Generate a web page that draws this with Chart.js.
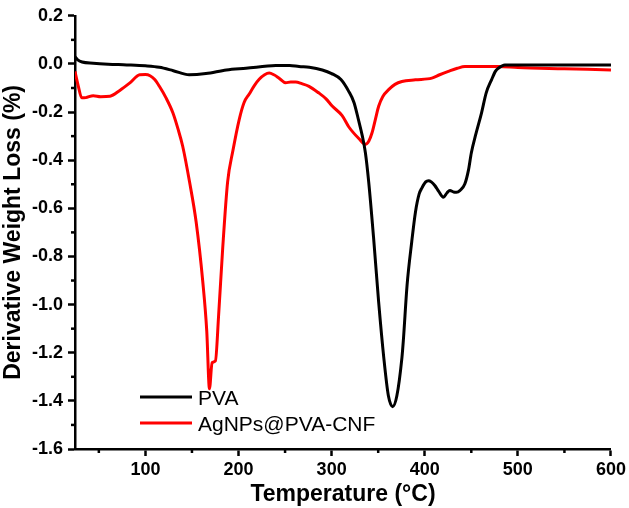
<!DOCTYPE html>
<html>
<head>
<meta charset="utf-8">
<script src="https://cdn.jsdelivr.net/npm/chart.js@4"></script>
<style>
  html, body { margin: 0; padding: 0; background: #fff; }
  #wrap { width: 629px; height: 508px; }
</style>
</head>
<body>
<div id="wrap"><canvas id="dtg" width="629" height="508"></canvas></div>
<script>
// PVA curve (temperature in °C, derivative weight loss in %)
const pvaTemp = [24.4, 27, 32, 44, 60, 80, 100, 115, 130, 147, 165, 187, 208, 240, 255, 265, 276, 290, 300, 310,
  318.5, 324, 329, 333, 336.3, 339.8, 345, 350.5, 356, 361, 365.5, 370, 375.5, 377, 381, 386, 390, 394, 397, 401,
  404, 407, 411, 415, 420, 424, 427, 431, 434, 438, 443, 447, 450, 455, 461, 466, 471.7, 476, 479, 486, 500, 550, 600];
const pvaDeriv = [0.03, 0.018, 0.008, 0.003, -0.001, -0.004, -0.008, -0.014, -0.028, -0.045, -0.04, -0.025, -0.018, -0.007, -0.006, -0.011, -0.014, -0.025, -0.04, -0.065,
  -0.115, -0.16, -0.235, -0.3, -0.37, -0.49, -0.72, -0.99, -1.22, -1.38, -1.424, -1.38, -1.22, -1.15, -0.92, -0.74, -0.616, -0.54, -0.515, -0.49,
  -0.485, -0.49, -0.506, -0.53, -0.554, -0.535, -0.526, -0.532, -0.533, -0.525, -0.499, -0.44, -0.37, -0.29, -0.203, -0.12, -0.066, -0.03, -0.018, -0.004, -0.004, -0.004, -0.004];

// AgNPs@PVA-CNF curve
const cnfTemp = [24.4, 26, 28, 31.6, 36, 44, 52, 62, 72.5, 83, 94, 100, 105, 110, 115, 122, 129.5, 135, 140, 147.4,
  154.5, 161.6, 165.9, 168.8, 171.6, 175.2, 178.7, 183, 188.3, 194, 200.8, 206, 211.5, 217, 222.2, 228, 233, 238, 243.6, 250.7,
  256, 261.4, 268, 275.7, 286, 294, 300.6, 311.3, 318.5, 329.2, 336.3, 340, 343.4, 347, 350.5, 355, 361.2, 368, 375.5, 390,
  407.6, 416, 425.4, 435, 443.2, 460, 478.9, 500, 550, 600];
const cnfDeriv = [-0.031, -0.06, -0.093, -0.141, -0.14, -0.132, -0.136, -0.134, -0.11, -0.08, -0.045, -0.044, -0.049, -0.065, -0.093, -0.14, -0.203, -0.27, -0.341, -0.49,
  -0.657, -0.904, -1.11, -1.35, -1.241, -1.234, -1.04, -0.767, -0.49, -0.36, -0.23, -0.16, -0.125, -0.09, -0.064, -0.045, -0.038, -0.045, -0.059, -0.078,
  -0.075, -0.075, -0.082, -0.093, -0.12, -0.145, -0.175, -0.215, -0.262, -0.31, -0.334, -0.32, -0.286, -0.23, -0.176, -0.135, -0.107, -0.085, -0.073, -0.066,
  -0.059, -0.045, -0.031, -0.018, -0.011, -0.011, -0.011, -0.015, -0.02, -0.025];

const xMajor = [100, 200, 300, 400, 500, 600];
const xMinor = [50, 150, 250, 350, 450, 550];
const yMajor = [0.2, 0.0, -0.2, -0.4, -0.6, -0.8, -1.0, -1.2, -1.4, -1.6];
const yMinor = [0.1, -0.1, -0.3, -0.5, -0.7, -0.9, -1.1, -1.3, -1.5];

const seriesNames = ['PVA', 'AgNPs@PVA-CNF'];
const seriesColors = ['#000000', '#ff0000'];

const FONT = '"Liberation Sans", Arial, sans-serif';

function toPoints(xs, ys) {
    return xs.map((x, i) => ({ x: x, y: ys[i] }));
}

// short minor ticks, drawn on the library's scales
const minorTicks = {
    id: 'minorTicks',
    afterDraw(chart) {
        const ctx = chart.ctx;
        const xs = chart.scales.x, ys = chart.scales.y;
        ctx.save();
        ctx.strokeStyle = '#000';
        ctx.lineWidth = 2.5;
        xMinor.forEach(v => {
            const px = xs.getPixelForValue(v);
            ctx.beginPath();
            ctx.moveTo(px, xs.top);
            ctx.lineTo(px, xs.top + 4);
            ctx.stroke();
        });
        yMinor.forEach(v => {
            const py = ys.getPixelForValue(v);
            ctx.beginPath();
            ctx.moveTo(ys.right, py);
            ctx.lineTo(ys.right - 4, py);
            ctx.stroke();
        });
        ctx.restore();
    }
};

// legend inside the plot, lower left
const insideLegend = {
    id: 'insideLegend',
    afterDraw(chart) {
        const ctx = chart.ctx;
        ctx.save();
        ctx.font = '21px ' + FONT;
        ctx.textBaseline = 'alphabetic';
        ctx.textAlign = 'left';
        chart.data.datasets.forEach((ds, i) => {
            const y = 397 + i * 26;
            ctx.strokeStyle = ds.borderColor;
            ctx.lineWidth = 3;
            ctx.beginPath();
            ctx.moveTo(140, y);
            ctx.lineTo(192, y);
            ctx.stroke();
            ctx.fillStyle = '#000';
            ctx.fillText(ds.label, 198, y + 8);
        });
        ctx.restore();
    }
};

const ctx = document.getElementById('dtg').getContext('2d');
new Chart(ctx, {
    type: 'line',
    data: {
        datasets: [
            {
                label: seriesNames[0],
                data: toPoints(pvaTemp, pvaDeriv),
                borderColor: seriesColors[0],
                borderWidth: 3,
                pointRadius: 0,
                cubicInterpolationMode: 'monotone',
                fill: false
            },
            {
                label: seriesNames[1],
                data: toPoints(cnfTemp, cnfDeriv),
                borderColor: seriesColors[1],
                borderWidth: 3,
                pointRadius: 0,
                cubicInterpolationMode: 'monotone',
                fill: false
            }
        ]
    },
    options: {
        responsive: false,
        animation: false,
        layout: { padding: { top: 13, right: 16, left: 0, bottom: 0 } },
        plugins: {
            legend: { display: false },
            tooltip: { enabled: false }
        },
        scales: {
            x: {
                type: 'linear',
                min: 24.4,
                max: 600,
                afterBuildTicks: scale => { scale.ticks = xMajor.map(v => ({ value: v })); },
                afterFit: scale => { scale.height = 59; },
                border: { display: true, color: '#000', width: 2.5 },
                grid: { display: true, drawOnChartArea: false, drawTicks: true, tickLength: 7, tickColor: '#000', tickWidth: 2.5 },
                ticks: {
                    color: '#000',
                    padding: 3,
                    maxRotation: 0,
                    font: { family: FONT, size: 18, weight: 'bold' }
                },
                title: {
                    display: true,
                    text: 'Temperature (°C)',
                    color: '#000',
                    padding: { top: 0, bottom: 0 },
                    font: { family: FONT, size: 23, weight: 'bold' }
                }
            },
            y: {
                type: 'linear',
                min: -1.6,
                max: 0.2,
                afterBuildTicks: scale => { scale.ticks = yMajor.map(v => ({ value: v })); },
                afterFit: scale => { scale.width = 75; },
                border: { display: true, color: '#000', width: 2.5 },
                grid: { display: true, drawOnChartArea: false, drawTicks: true, tickLength: 7, tickColor: '#000', tickWidth: 2.5 },
                ticks: {
                    color: '#000',
                    padding: 5,
                    font: { family: FONT, size: 18, weight: 'bold' },
                    callback: v => v.toFixed(1)
                },
                title: {
                    display: true,
                    text: 'Derivative Weight Loss (%)',
                    color: '#000',
                    padding: { top: 0, bottom: 0 },
                    font: { family: FONT, size: 23, weight: 'bold' }
                }
            }
        }
    },
    plugins: [minorTicks, insideLegend]
});
</script>
</body>
</html>
